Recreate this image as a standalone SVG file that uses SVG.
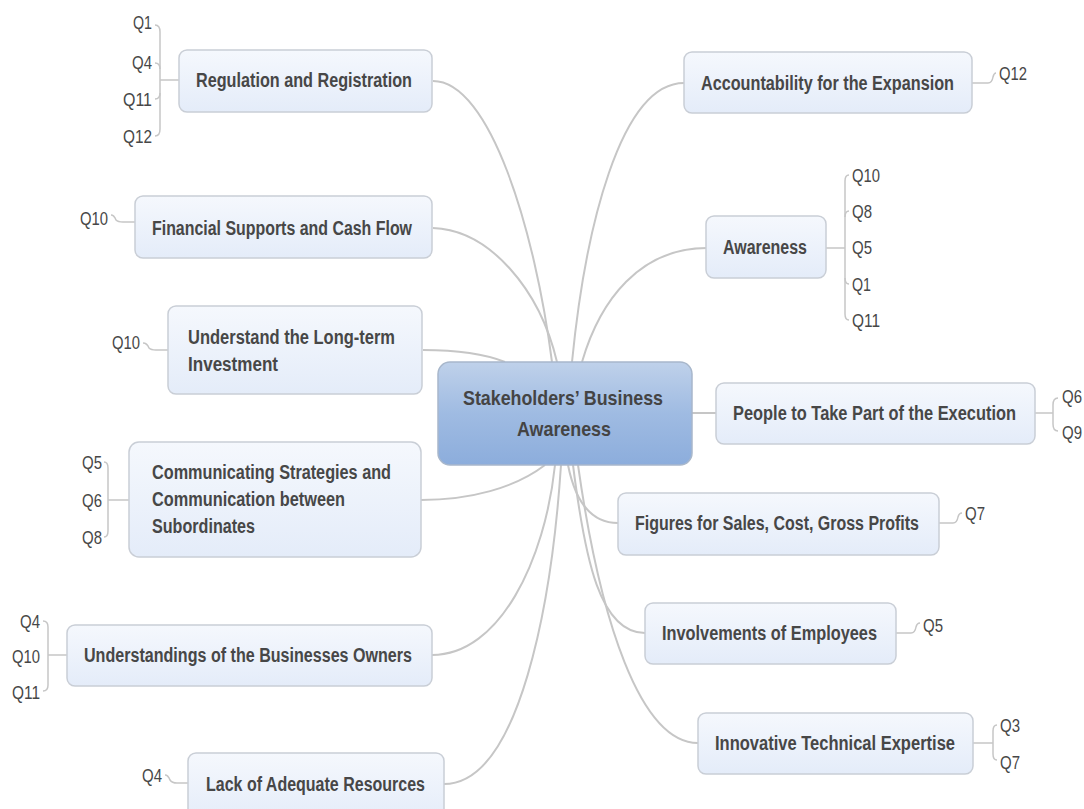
<svg xmlns="http://www.w3.org/2000/svg" width="1084" height="809" viewBox="0 0 1084 809">
  <defs>
    <linearGradient id="topicFill" x1="0" y1="0" x2="0" y2="1">
      <stop offset="0" stop-color="#f5f8fd"/>
      <stop offset="1" stop-color="#e4ecf9"/>
    </linearGradient>
    <linearGradient id="centralFill" x1="0" y1="0" x2="0" y2="1">
      <stop offset="0" stop-color="#bfd1ea"/>
      <stop offset="0.5" stop-color="#9fbbe2"/>
      <stop offset="1" stop-color="#8caddc"/>
    </linearGradient>
  </defs>
  <style>
    .box { fill: url(#topicFill); stroke: #c9ced6; stroke-width: 1.5; }
    .central { fill: url(#centralFill); stroke: #a8b7cb; stroke-width: 1.5; }
    .label { font-family: "Liberation Sans", Arial, sans-serif; font-size: 20px; font-weight: bold; fill: #474747; }
    .clabel { font-family: "Liberation Sans", Arial, sans-serif; font-size: 21px; font-weight: bold; fill: #444444; }
    .q { font-family: "Liberation Sans", Arial, sans-serif; font-size: 19px; fill: #474747; }
    .link { fill: none; stroke: #c6c6c6; stroke-width: 2; }
    .thin { fill: none; stroke: #c6c6c6; stroke-width: 1.5; }
  </style>
  <rect width="1084" height="809" fill="#ffffff"/>

  <!-- branches from the central topic -->
  <g id="connectors">
    <path class="link" d="M433,81 C490,81 535,230 552,362"/>
    <path class="link" d="M433,228 C490,230 540,290 557,362"/>
    <path class="link" d="M423,350 C460,350 485,354 505,362"/>
    <path class="link" d="M421,500 C470,500 515,488 545,465"/>
    <path class="link" d="M432,655 C500,655 545,560 555,465"/>
    <path class="link" d="M444,784 C520,784 552,600 561,465"/>
    <path class="link" d="M684,83 C620,83 585,230 572,362"/>
    <path class="link" d="M707,248 C640,248 600,300 582,362"/>
    <path class="link" d="M692,413 C702,413 706,413 716,413"/>
    <path class="link" d="M568,465 C575,500 590,523 618,523"/>
    <path class="link" d="M573,465 C585,560 600,633 645,633"/>
    <path class="link" d="M578,465 C600,620 640,743 698,743"/>

    <!-- question references -->
    <path class="thin" d="M179,80 L160,80"/>
    <path class="thin" d="M155,25 Q160,25 160,32 L160,129 Q160,136 155,136"/>
    <path class="thin" d="M155,63 Q160,63 160,69"/>
    <path class="thin" d="M155,99 Q160,99 160,93"/>
    <path class="thin" d="M111,215 Q114,215 116,220 Q118,222 123,222 L135,222"/>
    <path class="thin" d="M143,343 Q147,343 149,348 Q151,350 156,350 L168,350"/>
    <path class="thin" d="M129,500 L108,500"/>
    <path class="thin" d="M104,462 Q108,462 108,468 L108,531 Q108,537 104,537"/>
    <path class="thin" d="M67,655 L48,655"/>
    <path class="thin" d="M43,621 Q48,621 48,627 L48,685 Q48,691 43,691"/>
    <path class="thin" d="M165,775 Q168,775 170,780 Q172,783 177,783 L188,783"/>
    <path class="thin" d="M972,83 L988,83 Q992,83 993,77 Q994,73 996,73"/>
    <path class="thin" d="M826,248 L845,248"/>
    <path class="thin" d="M849,175 Q845,175 845,181 L845,314 Q845,320 849,320"/>
    <path class="thin" d="M849,211 Q845,211 845,217"/>
    <path class="thin" d="M849,284 Q845,284 845,278"/>
    <path class="thin" d="M1035,413 L1053,413"/>
    <path class="thin" d="M1058,398 Q1053,398 1053,405 L1053,424 Q1053,431 1058,431"/>
    <path class="thin" d="M939,523 L953,523 Q957,523 958,517 Q959,513 962,513"/>
    <path class="thin" d="M896,633 L911,633 Q915,633 916,627 Q917,623 920,623"/>
    <path class="thin" d="M973,743 L993,743"/>
    <path class="thin" d="M997,725 Q993,725 993,731 L993,754 Q993,760 997,760"/>
  </g>

  <g id="central-topic">
    <rect class="central" x="438" y="362" width="254" height="103" rx="12"/>
    <text class="clabel" x="463" y="405" textLength="200" lengthAdjust="spacingAndGlyphs">Stakeholders’ Business</text>
    <text class="clabel" x="517" y="436" textLength="94" lengthAdjust="spacingAndGlyphs">Awareness</text>
  </g>

  <g id="regulation">
    <rect class="box" x="179" y="50" width="253" height="62" rx="8"/>
    <text class="label" x="196" y="87" textLength="216" lengthAdjust="spacingAndGlyphs">Regulation and Registration</text>
    <text class="q" x="152" y="29" text-anchor="end" textLength="19" lengthAdjust="spacingAndGlyphs">Q1</text>
    <text class="q" x="152" y="69" text-anchor="end" textLength="20" lengthAdjust="spacingAndGlyphs">Q4</text>
    <text class="q" x="152" y="106" text-anchor="end" textLength="29" lengthAdjust="spacingAndGlyphs">Q11</text>
    <text class="q" x="152" y="143" text-anchor="end" textLength="29" lengthAdjust="spacingAndGlyphs">Q12</text>
  </g>

  <g id="financial">
    <rect class="box" x="135" y="196" width="297" height="62" rx="8"/>
    <text class="label" x="152" y="235" textLength="260" lengthAdjust="spacingAndGlyphs">Financial Supports and Cash Flow</text>
    <text class="q" x="80" y="225" textLength="28" lengthAdjust="spacingAndGlyphs">Q10</text>
  </g>

  <g id="long-term">
    <rect class="box" x="168" y="306" width="254" height="88" rx="8"/>
    <text class="label" x="188" y="344" textLength="207" lengthAdjust="spacingAndGlyphs">Understand the Long-term</text>
    <text class="label" x="188" y="371" textLength="90" lengthAdjust="spacingAndGlyphs">Investment</text>
    <text class="q" x="112" y="349" textLength="28" lengthAdjust="spacingAndGlyphs">Q10</text>
  </g>

  <g id="communicating">
    <rect class="box" x="129" y="442" width="292" height="115" rx="10"/>
    <text class="label" x="152" y="479" textLength="239" lengthAdjust="spacingAndGlyphs">Communicating Strategies and</text>
    <text class="label" x="152" y="506" textLength="193" lengthAdjust="spacingAndGlyphs">Communication between</text>
    <text class="label" x="152" y="533" textLength="103" lengthAdjust="spacingAndGlyphs">Subordinates</text>
    <text class="q" x="102" y="469" text-anchor="end" textLength="20" lengthAdjust="spacingAndGlyphs">Q5</text>
    <text class="q" x="102" y="507" text-anchor="end" textLength="20" lengthAdjust="spacingAndGlyphs">Q6</text>
    <text class="q" x="102" y="544" text-anchor="end" textLength="20" lengthAdjust="spacingAndGlyphs">Q8</text>
  </g>

  <g id="owners">
    <rect class="box" x="67" y="625" width="365" height="61" rx="8"/>
    <text class="label" x="84" y="662" textLength="328" lengthAdjust="spacingAndGlyphs">Understandings of the Businesses Owners</text>
    <text class="q" x="40" y="628" text-anchor="end" textLength="20" lengthAdjust="spacingAndGlyphs">Q4</text>
    <text class="q" x="40" y="663" text-anchor="end" textLength="28" lengthAdjust="spacingAndGlyphs">Q10</text>
    <text class="q" x="40" y="699" text-anchor="end" textLength="28" lengthAdjust="spacingAndGlyphs">Q11</text>
  </g>

  <g id="resources">
    <rect class="box" x="188" y="753" width="256" height="70" rx="8"/>
    <text class="label" x="206" y="791" textLength="219" lengthAdjust="spacingAndGlyphs">Lack of Adequate Resources</text>
    <text class="q" x="142" y="782" textLength="20" lengthAdjust="spacingAndGlyphs">Q4</text>
  </g>

  <g id="accountability">
    <rect class="box" x="684" y="52" width="288" height="61" rx="8"/>
    <text class="label" x="701" y="90" textLength="253" lengthAdjust="spacingAndGlyphs">Accountability for the Expansion</text>
    <text class="q" x="999" y="80" textLength="28" lengthAdjust="spacingAndGlyphs">Q12</text>
  </g>

  <g id="awareness">
    <rect class="box" x="706" y="216" width="120" height="62" rx="8"/>
    <text class="label" x="723" y="254" textLength="84" lengthAdjust="spacingAndGlyphs">Awareness</text>
    <text class="q" x="852" y="182" textLength="28" lengthAdjust="spacingAndGlyphs">Q10</text>
    <text class="q" x="852" y="218" textLength="20" lengthAdjust="spacingAndGlyphs">Q8</text>
    <text class="q" x="852" y="254" textLength="20" lengthAdjust="spacingAndGlyphs">Q5</text>
    <text class="q" x="852" y="291" textLength="19" lengthAdjust="spacingAndGlyphs">Q1</text>
    <text class="q" x="852" y="327" textLength="28" lengthAdjust="spacingAndGlyphs">Q11</text>
  </g>

  <g id="execution">
    <rect class="box" x="716" y="383" width="319" height="61" rx="8"/>
    <text class="label" x="733" y="420" textLength="283" lengthAdjust="spacingAndGlyphs">People to Take Part of the Execution</text>
    <text class="q" x="1062" y="403" textLength="20" lengthAdjust="spacingAndGlyphs">Q6</text>
    <text class="q" x="1062" y="439" textLength="20" lengthAdjust="spacingAndGlyphs">Q9</text>
  </g>

  <g id="figures">
    <rect class="box" x="618" y="493" width="321" height="62" rx="8"/>
    <text class="label" x="635" y="530" textLength="284" lengthAdjust="spacingAndGlyphs">Figures for Sales, Cost, Gross Profits</text>
    <text class="q" x="965" y="520" textLength="20" lengthAdjust="spacingAndGlyphs">Q7</text>
  </g>

  <g id="employees">
    <rect class="box" x="645" y="603" width="251" height="61" rx="8"/>
    <text class="label" x="662" y="640" textLength="215" lengthAdjust="spacingAndGlyphs">Involvements of Employees</text>
    <text class="q" x="923" y="632" textLength="20" lengthAdjust="spacingAndGlyphs">Q5</text>
  </g>

  <g id="expertise">
    <rect class="box" x="698" y="713" width="275" height="61" rx="8"/>
    <text class="label" x="715" y="750" textLength="240" lengthAdjust="spacingAndGlyphs">Innovative Technical Expertise</text>
    <text class="q" x="1000" y="732" textLength="20" lengthAdjust="spacingAndGlyphs">Q3</text>
    <text class="q" x="1000" y="769" textLength="20" lengthAdjust="spacingAndGlyphs">Q7</text>
  </g>
</svg>
